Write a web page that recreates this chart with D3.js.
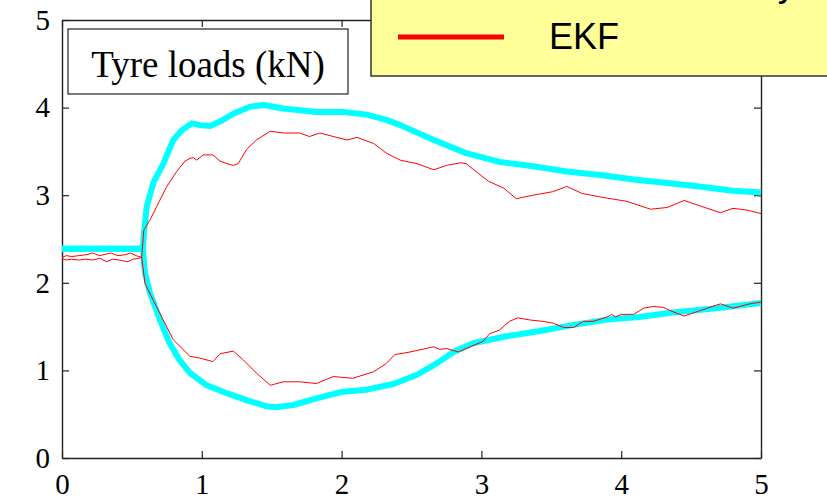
<!DOCTYPE html>
<html>
<head>
<meta charset="utf-8">
<script src="https://cdn.jsdelivr.net/npm/d3@7"></script>
<style>
  html, body { margin: 0; padding: 0; background: #fff; }
  svg { display: block; }
</style>
</head>
<body>
<svg id="chart" width="827" height="499"></svg>
<script>
// Time axis (s) and load axis (kN) ticks
const xTicks = [0, 1, 2, 3, 4, 5];
const yTicks = [0, 1, 2, 3, 4, 5];

// Reference tyre loads [t (s), load (kN)] — thick cyan traces
const refUpper = [[0,2.39],[0.58,2.39],[0.585,2.55],[0.606,2.87],[0.653,3.14],[0.725,3.36],[0.796,3.63],[0.856,3.74],[0.928,3.82],[0.987,3.80],[1.059,3.79],[1.13,3.84],[1.225,3.93],[1.345,4.01],[1.44,4.03],[1.583,3.99],[1.82,3.95],[2.01,3.95],[2.18,3.92],[2.32,3.86],[2.42,3.80],[2.66,3.63],[2.89,3.48],[3.13,3.38],[3.37,3.33],[3.61,3.27],[3.85,3.23],[4.09,3.18],[4.33,3.14],[4.56,3.10],[4.80,3.05],[5.0,3.03]];
const refLower = [[0,2.39],[0.58,2.39],[0.585,2.25],[0.594,2.11],[0.63,1.88],[0.70,1.58],[0.77,1.31],[0.84,1.12],[0.916,0.97],[1.035,0.83],[1.178,0.74],[1.32,0.66],[1.464,0.59],[1.535,0.58],[1.655,0.605],[1.82,0.68],[2.01,0.757],[2.18,0.78],[2.37,0.845],[2.54,0.95],[2.68,1.08],[2.80,1.21],[2.94,1.31],[3.18,1.39],[3.42,1.45],[3.66,1.52],[3.90,1.58],[4.13,1.61],[4.37,1.66],[4.68,1.71],[5.0,1.77]];

// EKF estimates [t (s), load (kN)] — thin red traces
const ekfUpper = [[0,2.29],[0.03,2.31],[0.07,2.30],[0.12,2.31],[0.17,2.32],[0.22,2.34],[0.27,2.31],[0.32,2.33],[0.35,2.34],[0.40,2.31],[0.45,2.32],[0.49,2.34],[0.53,2.31],[0.57,2.29],[0.585,2.60],[0.63,2.72],[0.677,2.87],[0.75,3.10],[0.82,3.27],[0.88,3.39],[0.916,3.42],[0.94,3.43],[0.963,3.40],[1.01,3.46],[1.08,3.46],[1.13,3.39],[1.18,3.36],[1.225,3.34],[1.26,3.36],[1.32,3.52],[1.39,3.63],[1.49,3.73],[1.583,3.71],[1.70,3.71],[1.77,3.67],[1.845,3.71],[1.94,3.67],[2.04,3.63],[2.11,3.66],[2.23,3.59],[2.32,3.48],[2.42,3.40],[2.54,3.36],[2.66,3.29],[2.75,3.34],[2.85,3.37],[2.89,3.36],[3.05,3.16],[3.16,3.08],[3.25,2.96],[3.37,3.00],[3.51,3.04],[3.61,3.10],[3.72,3.02],[3.85,2.98],[4.04,2.93],[4.21,2.84],[4.33,2.86],[4.45,2.94],[4.56,2.88],[4.71,2.80],[4.80,2.85],[4.90,2.83],[5.0,2.79]];
const ekfLower = [[0,2.28],[0.03,2.26],[0.07,2.27],[0.12,2.26],[0.17,2.27],[0.22,2.26],[0.27,2.28],[0.32,2.24],[0.36,2.27],[0.41,2.26],[0.47,2.24],[0.51,2.27],[0.55,2.28],[0.57,2.29],[0.594,1.99],[0.653,1.80],[0.713,1.61],[0.796,1.35],[0.916,1.16],[0.987,1.14],[1.08,1.10],[1.13,1.19],[1.225,1.22],[1.297,1.12],[1.39,0.97],[1.49,0.83],[1.583,0.87],[1.70,0.87],[1.82,0.85],[1.94,0.93],[2.08,0.91],[2.23,0.985],[2.32,1.08],[2.38,1.18],[2.49,1.21],[2.66,1.27],[2.70,1.24],[2.75,1.25],[2.835,1.21],[2.92,1.27],[3.01,1.33],[3.06,1.42],[3.13,1.46],[3.20,1.56],[3.26,1.60],[3.35,1.575],[3.44,1.56],[3.51,1.54],[3.59,1.49],[3.66,1.49],[3.73,1.56],[3.80,1.56],[3.90,1.61],[3.93,1.64],[3.96,1.61],[4.0,1.64],[4.09,1.64],[4.16,1.71],[4.23,1.73],[4.30,1.72],[4.37,1.67],[4.45,1.62],[4.56,1.68],[4.71,1.76],[4.80,1.71],[4.92,1.76],[5.0,1.78]];

const legendLabels = ["Track telemetry", "EKF"];
const titleText = "Tyre loads (kN)";

const svg = d3.select("#chart");
const plot = { left: 62, right: 761, top: 20, bottom: 458 };

const x = d3.scaleLinear().domain([0, 5]).range([plot.left, plot.right]);
const y = d3.scaleLinear().domain([0, 5]).range([plot.bottom, plot.top]);

const serif = "'Liberation Serif', 'Times New Roman', serif";
const sans = "'Liberation Sans', Arial, sans-serif";
const frameColor = "#222";

// Frame: inward ticks on all four sides
function styleAxis(g) {
  g.select(".domain").attr("stroke", frameColor).attr("stroke-width", 1.4);
  g.selectAll(".tick line").attr("stroke", frameColor).attr("stroke-width", 1.2);
  g.selectAll(".tick text").attr("fill", "#000")
    .style("font-family", serif).style("font-size", "29px");
}

svg.append("g")
  .attr("transform", `translate(0,${plot.bottom})`)
  .call(d3.axisBottom(x).tickValues(xTicks).tickFormat(d3.format("d"))
    .tickSizeInner(-7).tickSizeOuter(0).tickPadding(15))
  .call(styleAxis);

svg.append("g")
  .attr("transform", `translate(${plot.left},0)`)
  .call(d3.axisLeft(y).tickValues(yTicks).tickFormat(d3.format("d"))
    .tickSizeInner(-7).tickSizeOuter(0).tickPadding(12))
  .call(styleAxis);

svg.append("g")
  .attr("transform", `translate(0,${plot.top})`)
  .call(d3.axisTop(x).tickValues(xTicks).tickFormat("")
    .tickSizeInner(-7).tickSizeOuter(0))
  .call(styleAxis);

svg.append("g")
  .attr("transform", `translate(${plot.right},0)`)
  .call(d3.axisRight(y).tickValues(yTicks).tickFormat("")
    .tickSizeInner(-7).tickSizeOuter(0))
  .call(styleAxis);

// Traces
const line = d3.line().x(d => x(d[0])).y(d => y(d[1]));

const refColor = "#00ffff";
const ekfColor = "#ff0000";

[refUpper, refLower].forEach(s => {
  svg.append("path").datum(s).attr("d", line)
    .attr("fill", "none").attr("stroke", refColor)
    .attr("stroke-width", 6).attr("stroke-linejoin", "round");
});
[ekfUpper, ekfLower].forEach(s => {
  svg.append("path").datum(s).attr("d", line)
    .attr("fill", "none").attr("stroke", ekfColor)
    .attr("stroke-width", 1).attr("stroke-linejoin", "round");
});

// Title box
svg.append("rect")
  .attr("x", 68).attr("y", 29).attr("width", 280).attr("height", 65)
  .attr("fill", "#fff").attr("stroke", frameColor).attr("stroke-width", 1.2);
svg.append("text")
  .attr("x", 208).attr("y", 77)
  .attr("text-anchor", "middle")
  .style("font-family", serif).style("font-size", "37px")
  .text(titleText);

// Legend (partly outside the page at the top-right)
const legend = svg.append("g");
legend.append("rect")
  .attr("x", 371).attr("y", -80).attr("width", 500).attr("height", 156)
  .attr("fill", "#ffff99").attr("stroke", "#333").attr("stroke-width", 1.5);
const legendRows = [
  { label: legendLabels[0], color: refColor, width: 6, yLine: -12, yText: -4 },
  { label: legendLabels[1], color: ekfColor, width: 5, yLine: 37, yText: 49 }
];
legendRows.forEach(r => {
  legend.append("line")
    .attr("x1", 398).attr("x2", 504).attr("y1", r.yLine).attr("y2", r.yLine)
    .attr("stroke", r.color).attr("stroke-width", r.width);
  legend.append("text")
    .attr("x", 549).attr("y", r.yText)
    .style("font-family", sans).style("font-size", "36px")
    .attr("fill", "#000")
    .text(r.label);
});
</script>
</body>
</html>
